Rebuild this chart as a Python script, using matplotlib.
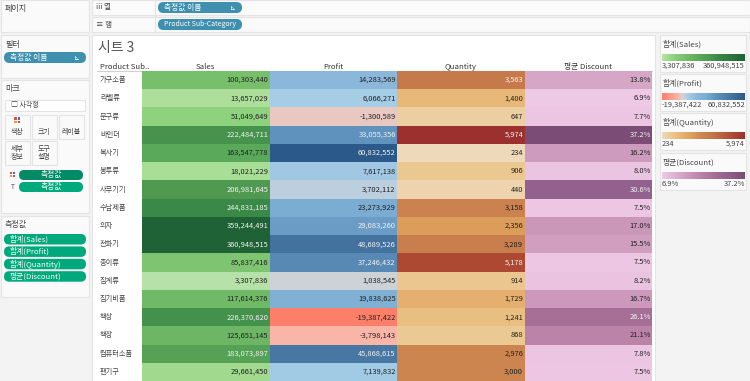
"""Tableau-style measure highlight table, sheet screenshot included."""

import matplotlib

matplotlib.use("Agg")
import matplotlib.pyplot as plt
import numpy as np
from matplotlib.colors import LinearSegmentedColormap, Normalize, TwoSlopeNorm, to_rgb
from matplotlib.patches import FancyBboxPatch, Rectangle

plt.rcParams["font.family"] = ["Noto Sans CJK KR", "DejaVu Sans"]

W, H = 750, 381

categories = ["가구소품", "라벨류", "문구류", "바인더", "복사기", "봉투류", "사무기기", "수납제품", "의자",
              "전화기", "종이류", "집계류", "집기비품", "책상", "책장", "컴퓨터소품", "팬기구"]
sales = [100303440, 13657029, 51049649, 222484711, 163547778, 18021229, 206981645, 244831185, 359244491,
         360948515, 85837416, 3307836, 117614376, 226370620, 125651145, 183073897, 29661450]
profit = [14283569, 6066271, -1300589, 33055356, 60832552, 7617138, 3702112, 23273929, 29083260,
          48689526, 37246432, 1038545, 19838625, -19387422, -3798143, 45868615, 7139832]
quantity = [3563, 1400, 647, 5974, 234, 906, 440, 3158, 2356, 3289, 5178, 914, 1729, 1241, 868, 2976, 3000]
discount = [13.8, 6.9, 7.7, 37.2, 16.2, 8.0, 30.6, 7.5, 17.0, 15.5, 7.5, 8.2, 16.7, 26.1, 21.1, 7.8, 7.5]

column_names = ["Sales", "Profit", "Quantity", "평균 Discount"]
legend_titles = ["합계(Sales)", "합계(Profit)", "합계(Quantity)", "평균(Discount)"]
legend_low = ["3,307,836", "-19,387,422", "234", "6.9%"]
legend_high = ["360,948,515", "60,832,552", "5,974", "37.2%"]
measure_pills = ["합계(Sales)", "합계(Profit)", "합계(Quantity)", "평균(Discount)"]

greens = LinearSegmentedColormap.from_list("g", [
    (0, "#b6e1a8"), (0.03, "#acdf9a"), (0.13, "#90d27e"), (0.27, "#78bf6c"), (0.45, "#5aa85a"),
    (0.57, "#4f9a50"), (0.67, "#3b8a48"), (1, "#1f6235")])
blues = LinearSegmentedColormap.from_list("b", [
    (0, "#fd7f6a"), (0.40, "#f8b5a8"), (0.466, "#e8c8c1"), (0.5, "#d6d3d3"), (0.53, "#bbcfdf"),
    (0.55, "#a5cde6"), (0.617, "#8cb8da"), (0.69, "#7bacd2"), (0.77, "#6093bd"), (0.9, "#44729f"),
    (1, "#2b5a8a")])
oranges = LinearSegmentedColormap.from_list("o", [
    (0, "#eedabb"), (0.12, "#ebc78e"), (0.2, "#e8b97a"), (0.37, "#dc9c5a"), (0.48, "#cd854f"),
    (0.58, "#c67a4c"), (0.86, "#ad4a33"), (1, "#9b302f")])
purples = LinearSegmentedColormap.from_list("p", [
    (0, "#eec9e6"), (0.23, "#d6a6c6"), (0.47, "#bb82a8"), (0.63, "#a66f96"), (0.78, "#93618e"),
    (1, "#7b4c75")])


def fmt_int(v):
    return f"{v:,}"


def fmt_pct(v):
    return f"{v:.1f}%"


# values, colormap, norm, text format, luminance under which the text goes white
columns = [
    (sales, greens, Normalize(min(sales), max(sales)), fmt_int, 0.52),
    (profit, blues, TwoSlopeNorm(0, min(profit), max(profit)), fmt_int, 0.58),
    (quantity, oranges, Normalize(min(quantity), max(quantity)), fmt_int, 0.56),
    (discount, purples, Normalize(min(discount), max(discount)), fmt_pct, 0.55),
]

fig = plt.figure(figsize=(W / 100, H / 100), dpi=100, facecolor="#f3f3f3")

# chrome, in pixel coordinates
bg = fig.add_axes([0, 0, 1, 1])
bg.set_xlim(0, W)
bg.set_ylim(H, 0)
bg.axis("off")


def panel(x0, y0, x1, y1, color="#fafafa"):
    bg.add_patch(Rectangle((x0, y0), x1 - x0, y1 - y0, fc=color, ec="#e4e4e4", lw=0.8))


def pill(x0, y0, x1, y1, text, color, tc="white", ha="left", icon=False, size=5.6):
    r = (y1 - y0) / 2
    bg.add_patch(FancyBboxPatch((x0 + r, y0 + r), x1 - x0 - 2 * r, 0.01,
                                boxstyle=f"round,pad={r},rounding_size={r}",
                                fc=color, ec="none"))
    tx = x0 + 6 if ha == "left" else (x0 + x1) / 2
    bg.text(tx, (y0 + y1) / 2, text, color=tc, fontsize=size, ha=ha, va="center")
    if icon:
        bg.text(x1 - 9, (y0 + y1) / 2, "⊾", color="white", fontsize=5, ha="center", va="center",
                family=["DejaVu Sans"])


def label(x, y, text, size=5.8, color="#444444", ha="left", **kw):
    bg.text(x, y, text, fontsize=size, color=color, ha=ha, va="center", **kw)


TEAL = "#3f8fae"
GREEN = "#00a97c"

# left cards
panel(1, 0, 89, 32)
label(5, 9, "페이지")
panel(1, 35, 89, 78)
label(5, 44, "필터")
pill(4, 52, 86, 63, "측정값 이름", TEAL, icon=True)
panel(1, 80, 89, 213)
label(5, 89, "마크")
panel(5, 100, 85, 111, "white")
label(11, 105.5, "□ 사각형", size=5)
for x, y, t in [(5, 115, "색상"), (32, 115, "크기"), (59, 115, "레이블"), (5, 141, "세부\n정보"), (32, 141, "도구\n설명")]:
    panel(x, y, x + 25, y + 24)
    label(x + 12.5, y + 17 if "\n" not in t else y + 12, t, size=5, ha="center", linespacing=1.1)
for i, c in enumerate(["#d4504f", "#3f6fb0", "#e69a3c", "#c0504d"]):
    bg.add_patch(Rectangle((14 + 3.5 * (i % 2), 117 + 3.5 * (i // 2)), 2.6, 2.6, fc=c, ec="none"))
pill(19, 170, 83, 180, "측정값", "#008a66", ha="center")
pill(19, 182, 83, 192, "측정값", GREEN, ha="center")
label(13, 187, "T", size=4.5, ha="center")
for i, c in enumerate(["#d4504f", "#3f6fb0", "#e69a3c", "#c0504d"]):
    bg.add_patch(Rectangle((10 + 3 * (i % 2), 172 + 3 * (i // 2)), 2.2, 2.2, fc=c, ec="none"))
panel(1, 216, 89, 297)
label(5, 224, "측정값")
for i, t in enumerate(measure_pills):
    pill(4, 234 + 12.4 * i, 86, 244.5 + 12.4 * i, t, GREEN)

# shelves
panel(92, 0, 750, 15)
panel(92, 17, 750, 32)
bg.add_line(plt.Line2D([155, 155], [0, 32], color="#e4e4e4", lw=0.8))
label(96, 7.5, "iii 열", size=5.4)
label(96, 25, "≡ 행", size=5.4)
pill(158, 2, 242, 13, "측정값 이름", TEAL, icon=True)
pill(158, 19, 242, 30, "Product Sub-Category", TEAL, size=5.0)

# sheet
bg.add_patch(Rectangle((92, 35), 563, 346, fc="white", ec="#e4e4e4", lw=0.8))
label(98, 48, "시트 3", size=10, color="#555555")
label(99.5, 67, "Product Sub..", size=5.6, color="#333333", fontweight="medium")
bg.add_line(plt.Line2D([97, 652], [71, 71], color="#d0d0d0", lw=0.8))

col_edges = [142, 269.5, 397, 524.5, 652]
n = len(categories)
row_h = 18.24
for i, name in enumerate(categories):
    label(100, 71 + row_h * (i + 0.5), name, size=5.2)
for j, name in enumerate(column_names):
    label((col_edges[j] + col_edges[j + 1]) / 2, 67, name, size=5.6, color="#333333", ha="center")

# highlight table, one axes per measure
for j, (vals, cmap, norm, fmt, white_under) in enumerate(columns):
    x0, x1 = col_edges[j], col_edges[j + 1]
    ax = fig.add_axes([x0 / W, 0, (x1 - x0) / W, (H - 71) / H])
    ax.pcolormesh(np.arange(2), np.arange(n + 1), np.array(vals, dtype=float).reshape(-1, 1),
                  cmap=cmap, norm=norm)
    ax.set_ylim(n, 0)
    ax.set_xlim(0, 1)
    ax.axis("off")
    for i, v in enumerate(vals):
        r, g, b = to_rgb(cmap(norm(v)))
        lum = 0.299 * r + 0.587 * g + 0.114 * b
        ax.text(0.99, i + 0.5, fmt(v), ha="right", va="center", fontsize=5.4,
                color="#f2f2f2" if lum < white_under else "#222222")

# colour legends
tops = [35, 74, 113, 153]
for j, (vals, cmap, norm, fmt, _) in enumerate(columns):
    y = tops[j]
    panel(660, y, 746, y + 37)
    label(663, y + 9, legend_titles[j], size=5.6)
    ax = fig.add_axes([662 / W, 1 - (y + 26) / H, 83 / W, 7.5 / H])
    ax.imshow(norm(np.linspace(min(vals), max(vals), 200)).reshape(1, -1), cmap=cmap, aspect="auto", vmin=0, vmax=1)
    ax.axis("off")
    label(662, y + 31, legend_low[j], size=5.4)
    label(745, y + 31, legend_high[j], size=5.4, ha="right")

fig.savefig("out.png", dpi=100, facecolor=fig.get_facecolor())
plt.close(fig)
